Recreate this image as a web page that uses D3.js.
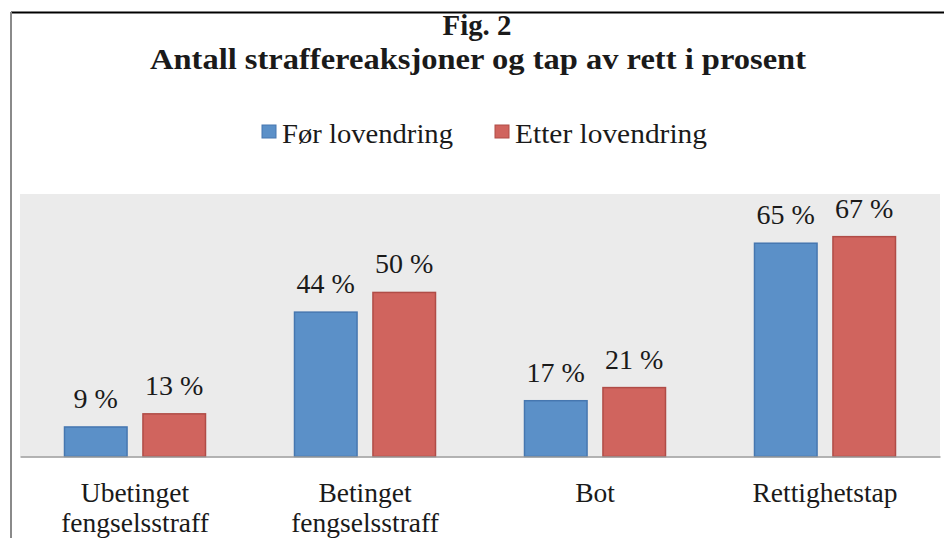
<!DOCTYPE html>
<html>
<head>
<meta charset="utf-8">
<script src="https://cdn.jsdelivr.net/npm/d3@7"></script>
<style>
html,body{margin:0;padding:0;background:#fff;}
svg{display:block;}
text{font-family:"Liberation Serif","DejaVu Serif",serif;fill:#1a1a1a;}
</style>
</head>
<body>
<svg id="chart" width="944" height="538"></svg>
<script>
const categories = ["Ubetinget|fengselsstraff", "Betinget|fengselsstraff", "Bot", "Rettighetstap"];
const seriesNames = ["Før lovendring", "Etter lovendring"];
const before = [9, 44, 17, 65];
const after = [13, 50, 21, 67];
const yMax = 80;

const colors = {"Før lovendring": {fill:"#5b90c8", stroke:"#4677b0"}, "Etter lovendring": {fill:"#d0645e", stroke:"#b04c47"}};

const svg = d3.select("#chart");
const plot = {left:20, right:940, top:194, bottom:456.5};

// frame
svg.append("line").attr("x1",11).attr("x2",944).attr("y1",12.5).attr("y2",12.5).attr("stroke","#000").attr("stroke-width",2);
svg.append("line").attr("x1",11).attr("x2",11).attr("y1",12).attr("y2",538).attr("stroke","#8a8a8a").attr("stroke-width",2);

// titles
svg.append("text").attr("x",477).attr("y",35).attr("text-anchor","middle")
  .style("font-weight","bold").style("font-size","30px")
  .attr("textLength",69).attr("lengthAdjust","spacingAndGlyphs").text("Fig. 2");
svg.append("text").attr("x",478).attr("y",69).attr("text-anchor","middle")
  .style("font-weight","bold").style("font-size","30px")
  .attr("textLength",656).attr("lengthAdjust","spacingAndGlyphs")
  .text("Antall straffereaksjoner og tap av rett i prosent");

// plot background
svg.append("rect").attr("x",plot.left).attr("y",plot.top)
  .attr("width",plot.right-plot.left).attr("height",plot.bottom-plot.top).attr("fill","#ebebeb");

const x0 = d3.scaleBand().domain(categories).range([plot.left, plot.right]).padding(0);
const x1 = d3.scaleBand().domain(seriesNames).range([44, 186]).paddingInner(0.19).paddingOuter(0);
const y = d3.scaleLinear().domain([0, yMax]).range([plot.bottom, plot.top]);

const data = categories.map((c,i)=>({cat:c, vals:[{s:seriesNames[0], v:before[i]},{s:seriesNames[1], v:after[i]}]}));

const groups = svg.append("g").selectAll("g.grp").data(data).enter().append("g")
  .attr("transform", d=>`translate(${x0(d.cat)},0)`);

groups.selectAll("rect").data(d=>d.vals).enter().append("rect")
  .attr("x", d=>x1(d.s)+0.5).attr("width", x1.bandwidth()-1)
  .attr("y", d=>y(d.v)).attr("height", d=>plot.bottom - y(d.v))
  .attr("fill", d=>colors[d.s].fill).attr("stroke", d=>colors[d.s].stroke).attr("stroke-width",1.5);

groups.selectAll("text.val").data(d=>d.vals).enter().append("text")
  .attr("class","val")
  .attr("x", d=>x1(d.s)+x1.bandwidth()/2).attr("y", d=>y(d.v)-19)
  .attr("text-anchor","middle").style("font-size","28px")
  .text(d=>d.v + " %");

// baseline axis
const xAxis = d3.axisBottom(x0).tickSize(0).tickFormat("");
const ax = svg.append("g").attr("transform",`translate(0,${plot.bottom})`).call(xAxis);
ax.select(".domain").attr("stroke","#9a9a9a").attr("stroke-width",1.5);

// category labels
const cl = svg.append("g").selectAll("text").data(categories).enter().append("text")
  .attr("x", d=>x0(d)+x0.bandwidth()/2).attr("y",502)
  .attr("text-anchor","middle").style("font-size","27.5px");
cl.each(function(d){
  const parts = d.split("|");
  const t = d3.select(this);
  parts.forEach((p,i)=>{
    t.append("tspan").attr("x", x0(d)+x0.bandwidth()/2).attr("dy", i===0?0:30).text(p);
  });
});

// legend
const legend = svg.append("g");
const legItems = [{s:seriesNames[0], x:262, w:171}, {s:seriesNames[1], x:495, w:192}];
legItems.forEach(it=>{
  legend.append("rect").attr("x",it.x).attr("y",125).attr("width",14).attr("height",13)
    .attr("fill",colors[it.s].fill).attr("stroke",colors[it.s].stroke).attr("stroke-width",1);
  legend.append("text").attr("x",it.x+20).attr("y",143).style("font-size","27px")
    .attr("textLength",it.w).attr("lengthAdjust","spacingAndGlyphs").text(it.s);
});
</script>
</body>
</html>
